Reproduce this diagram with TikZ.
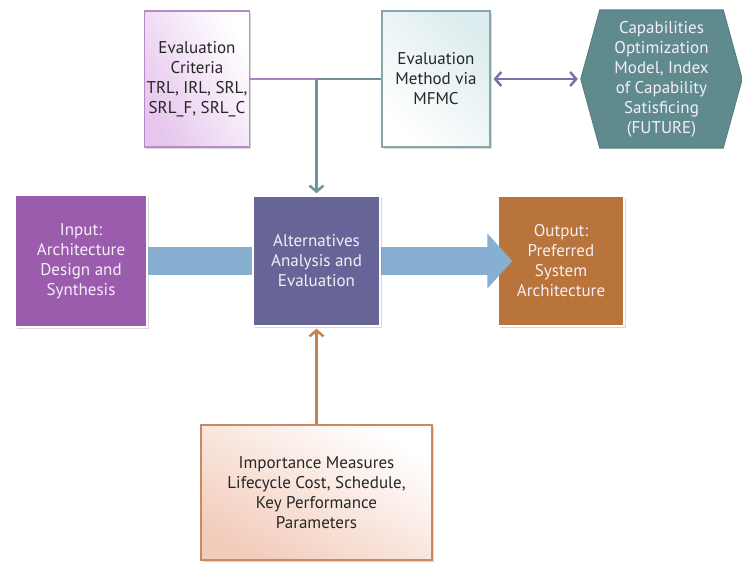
\documentclass[tikz,border=0pt]{standalone}
\usepackage{fontspec}
\setmainfont{PT Sans}
\usetikzlibrary{arrows.meta, shadows, backgrounds}
\definecolor{critfill}{HTML}{E6C6EE}
\definecolor{critline}{HTML}{B68CC8}
\definecolor{methfill}{HTML}{DDECEE}
\definecolor{methline}{HTML}{86A8AA}
\definecolor{hexfill}{HTML}{5F8B8F}
\definecolor{hexline}{HTML}{577F83}
\definecolor{infill}{HTML}{9B5CAE}
\definecolor{altfill}{HTML}{676598}
\definecolor{outfill}{HTML}{B8743A}
\definecolor{impfill}{HTML}{F3CDBC}
\definecolor{impline}{HTML}{C88A5E}
\definecolor{bigblue}{HTML}{86AFD1}
\definecolor{tealline}{HTML}{6D9598}
\definecolor{purpline}{HTML}{B07FC0}
\definecolor{dblline}{HTML}{7A70AA}
\definecolor{upline}{HTML}{C1834F}
\definecolor{lighttext}{HTML}{F6EEF6}
\definecolor{darktext}{HTML}{262626}
\tikzset{
  boxtext/.style={align=center, inner sep=2pt, font=\fontsize{17}{20}\selectfont},
  box/.style={rectangle, boxtext,
    drop shadow={shadow xshift=1.5pt, shadow yshift=-2pt, opacity=0.3}},
  lightbox/.style={box, line width=1.2pt, text=darktext},
  darkbox/.style={box, draw=white, line width=1.5pt, text=lighttext},
  barb/.tip={Straight Barb[length=6pt, width=14pt]},
  thinarrow/.style={line width=2.5pt, -barb}
}
\begin{document}
\begin{tikzpicture}[x=1pt, y=-1pt]
        \useasboundingbox (0,0) rectangle (742,562);
        %draw nodes by coordinates
        \node[lightbox, draw=critline, left color=white, right color=critfill, shading angle=-60,
              minimum width=100, minimum height=136] (crit) at (197,79)
              {Evaluation\\Criteria\\TRL, IRL, SRL,\\SRL\_F, SRL\_C};
        \node[lightbox, draw=methline, left color=methfill, right color=white, shading angle=-45,
              minimum width=108, minimum height=136] (method) at (436,79)
              {Evaluation\\Method via\\MFMC};
        \node[boxtext, minimum width=161, minimum height=138, text=lighttext] (capab) at (661.5,79)
              {Capabilities\\Optimization\\Model, Index\\of Capability\\Satisficing\\(FUTURE)};
        \node[darkbox, fill=infill, minimum width=132, minimum height=132] (input) at (81,261)
              {Input:\\Architecture\\Design and\\Synthesis};
        \node[darkbox, fill=outfill, minimum width=126, minimum height=130] (output) at (561,261)
              {Output:\\Preferred\\System\\Architecture};
        \node[lightbox, draw=impline, left color=white, right color=impfill, shading angle=-30,
              minimum width=231, minimum height=135] (imp) at (316.5,492.5)
              {Importance Measures\\Lifecycle Cost, Schedule,\\Key Performance\\Parameters};

        % hexagon round the text
        \begin{scope}[on background layer]
        \fill[hexfill, draw=hexline, line width=1pt] (capab.west) -- ([xshift=19]capab.north west) -- ([xshift=-19]capab.north east)
            -- (capab.east) -- ([xshift=-19]capab.south east) -- ([xshift=19]capab.south west) -- cycle;
        \end{scope}

        % big flow arrow
        \draw[bigblue, line width=28pt, shorten >=-15pt, -{Triangle[length=25pt, width=54pt]}] (input.east) -- (output.west);
        \node[darkbox, fill=altfill, minimum width=127, minimum height=130] (alt) at (316.5,261)
              {Alternatives\\Analysis and\\Evaluation};

        % Draw edges (links)
        \coordinate (junc) at (alt.north |- crit.east);
        \draw[purpline, line width=2.5pt] (crit.east) -- (junc);
        \draw[tealline, line width=2.5pt] (junc) -- (method.west);
        \draw[tealline, thinarrow, shorten >=2pt] (junc) -- (alt.north);
        \draw[dblline, line width=2.5pt, barb-barb, shorten <=3pt, shorten >=3pt] (method.east) -- (capab.west);
        \draw[upline, thinarrow, shorten >=2pt] (imp.north) -- (alt.south);
    \end{tikzpicture}
\end{document}
